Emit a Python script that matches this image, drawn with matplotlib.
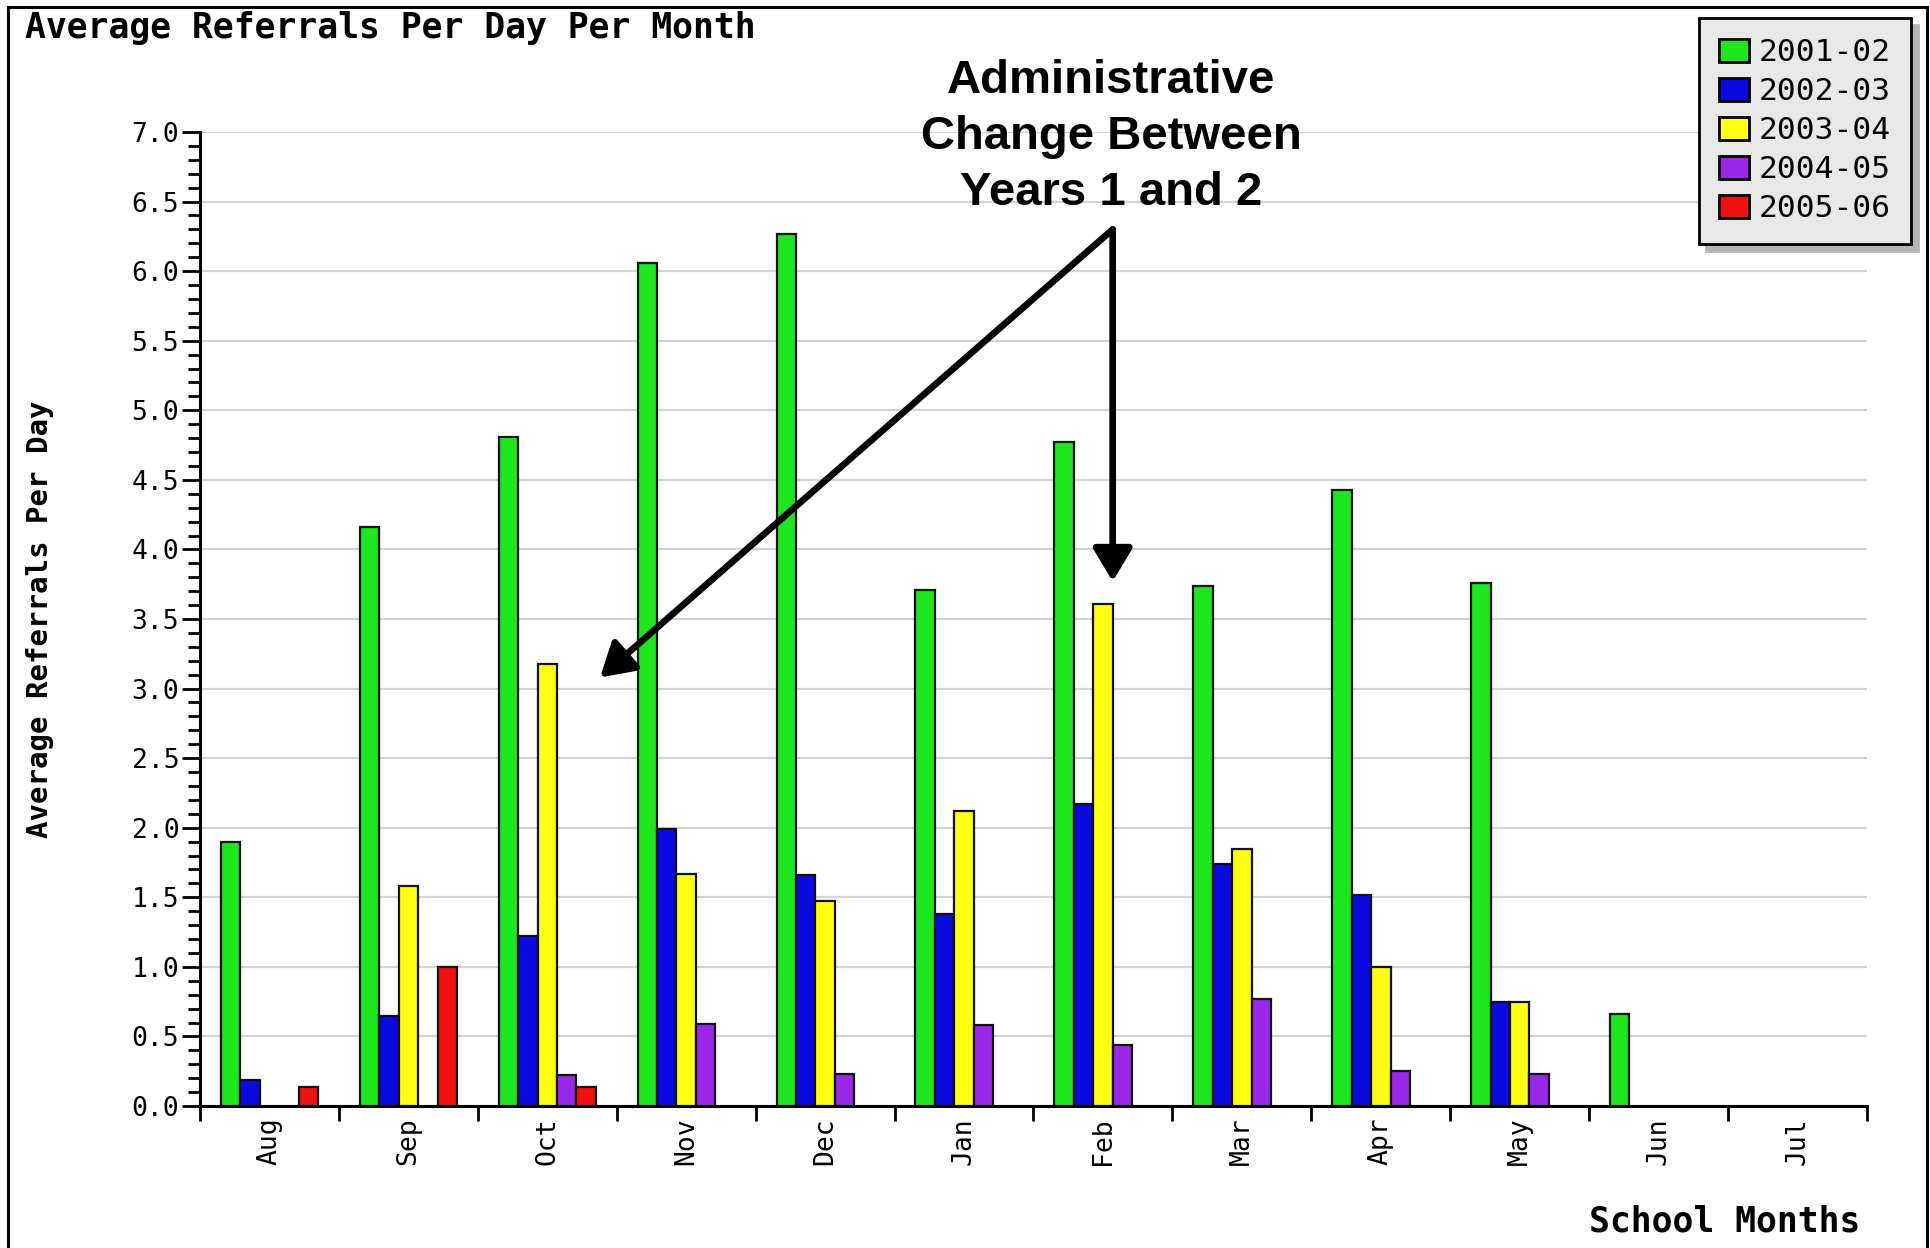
import matplotlib.pyplot as plt
from matplotlib.ticker import MultipleLocator
from matplotlib.patches import Rectangle
import numpy as np

months = ['Aug', 'Sep', 'Oct', 'Nov', 'Dec', 'Jan', 'Feb', 'Mar', 'Apr', 'May', 'Jun', 'Jul']
years = ['2001-02', '2002-03', '2003-04', '2004-05', '2005-06']
colors = ['#1ee61e', '#0a0ae0', '#ffff14', '#9a28e8', '#f01010']

nan = np.nan
y2001 = [1.90, 4.16, 4.81, 6.06, 6.27, 3.71, 4.77, 3.74, 4.43, 3.76, 0.66, nan]
y2002 = [0.19, 0.65, 1.22, 1.99, 1.66, 1.38, 2.17, 1.74, 1.52, 0.75, nan, nan]
y2003 = [nan, 1.58, 3.18, 1.67, 1.47, 2.12, 3.61, 1.85, 1.00, 0.75, nan, nan]
y2004 = [nan, nan, 0.22, 0.59, 0.23, 0.58, 0.44, 0.77, 0.25, 0.23, nan, nan]
y2005 = [0.14, 1.00, 0.14, nan, nan, nan, nan, nan, nan, nan, nan, nan]
series = [y2001, y2002, y2003, y2004, y2005]

mono = 'DejaVu Sans Mono'

fig = plt.figure(figsize=(19.31, 12.48), dpi=100)
ax = fig.add_axes([200 / 1931, 1 - 1106 / 1248, 1667 / 1931, 974 / 1248])

x = np.arange(len(months))
w = 0.14
for k, vals in enumerate(series):
    vals = np.array(vals, dtype=float)
    ok = ~np.isnan(vals)
    ax.bar(x[ok] + (k - 2) * w, vals[ok], width=w, color=colors[k],
           edgecolor='#111111', linewidth=1.6, label=years[k], zorder=3)

ax.set_xlim(-0.5, len(months) - 0.5)
ax.set_ylim(0, 7.0)

# y axis: majors every 0.5, minors every 0.1, ticks pointing out
ax.yaxis.set_major_locator(MultipleLocator(0.5))
ax.yaxis.set_minor_locator(MultipleLocator(0.1))
ax.set_yticks(np.arange(0, 7.01, 0.5))
ax.set_yticklabels(['%.1f' % v for v in np.arange(0, 7.01, 0.5)], family=mono, fontsize=19)
ax.tick_params(axis='y', which='major', length=13, width=2, pad=2, direction='out')
ax.tick_params(axis='y', which='minor', length=8.5, width=2, direction='out')

# x axis: ticks on month boundaries, labels at group centres
ax.set_xticks(np.arange(-0.5, len(months)))
ax.set_xticklabels([])
ax.set_xticks(x, minor=True)
ax.set_xticklabels(months, minor=True, rotation=90, family=mono, fontsize=19)
ax.tick_params(axis='x', which='major', length=11, width=2, direction='out')
ax.tick_params(axis='x', which='minor', length=0, pad=8)

ax.yaxis.grid(True, color='#d4d4d4', linewidth=1.6, zorder=0)
ax.set_axisbelow(True)
for s in ['top', 'right']:
    ax.spines[s].set_visible(False)
for s in ['left', 'bottom']:
    ax.spines[s].set_linewidth(2.2)

fig.text(25 / 1931, 1 - 38 / 1248, 'Average Referrals Per Day Per Month',
         family=mono, fontweight='bold', fontsize=25, ha='left', va='baseline')
fig.text(40 / 1931, 1 - 619 / 1248, 'Average Referrals Per Day', rotation=90,
         family=mono, fontweight='bold', fontsize=21, ha='center', va='center')
fig.text(1860 / 1931, 1 - 1231 / 1248, 'School Months',
         family=mono, fontweight='bold', fontsize=25, ha='right', va='baseline')

# annotation text and the two arrows
fig.text(1111 / 1931, 1 - 137 / 1248, 'Administrative\nChange Between\nYears 1 and 2',
         family='Liberation Sans', fontweight='bold', fontsize=34, ha='center',
         va='center', linespacing=1.36)
start = (6.07, 6.30)
arrow = dict(arrowstyle='-|>,head_length=0.5,head_width=0.3', color='black',
             lw=4.8, mutation_scale=40, shrinkA=0, shrinkB=0)
ax.annotate('', xy=(2.38, 3.08), xytext=start, arrowprops=arrow, annotation_clip=False)
ax.annotate('', xy=(6.07, 3.77), xytext=start, arrowprops=arrow, annotation_clip=False)

leg = fig.legend(loc='upper right', bbox_to_anchor=(1911 / 1931, 1 - 18 / 1248),
                 prop={'family': mono, 'size': 22.5}, frameon=True, fancybox=False,
                 facecolor='#e8e8e8', edgecolor='black', framealpha=1,
                 shadow={'ox': 5, 'oy': -5, 'color': '#b4b4b4', 'alpha': 1},
                 handlelength=0.95, handleheight=0.8, handletextpad=0.3,
                 labelspacing=0.32, borderpad=0.65, borderaxespad=0)
leg.get_frame().set_linewidth(2)
for h in leg.legend_handles:
    h.set_linewidth(2)
    h.set_edgecolor('black')

# outer border of the chart image
fig.patches.append(Rectangle((8 / 1931, -0.05), 1919 / 1931, 1.05 - 7 / 1248,
                             transform=fig.transFigure, fill=False,
                             edgecolor='black', linewidth=2.2))

fig.savefig('out.png', dpi=100)
